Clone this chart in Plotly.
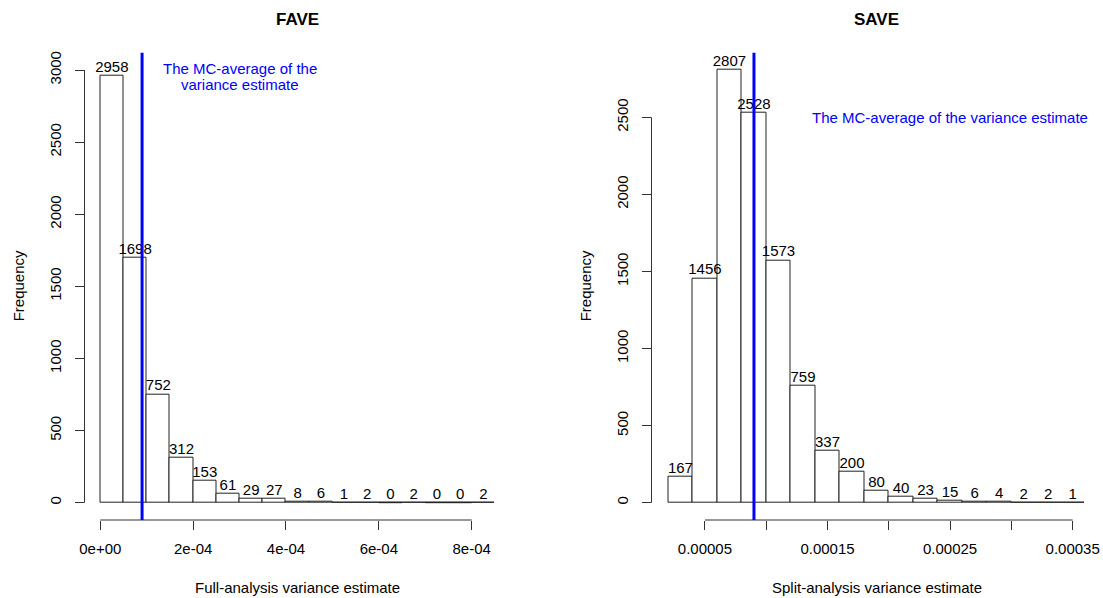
import plotly.graph_objects as go

# ---- data ----
fave_start = 0.0
fave_width = 5e-5
fave_counts = [2958, 1698, 752, 312, 153, 61, 29, 27, 8, 6, 1, 2, 0, 2, 0, 0, 2]

save_start = 2e-5
save_width = 2e-5
save_counts = [167, 1456, 2807, 2528, 1573, 759, 337, 200, 80, 40, 23, 15, 6, 4, 2, 2, 1]

fave_mc_avg = 9.0e-5
save_mc_avg = 9.0e-5

fave_ylim_top = 3000
save_ylim_top = 2807

fave_xticks = [0, 2e-4, 4e-4, 6e-4, 8e-4]
fave_xticktext = ["0e+00", "2e-04", "4e-04", "6e-04", "8e-04"]
save_xticks = [5e-5, 1e-4, 1.5e-4, 2e-4, 2.5e-4, 3e-4, 3.5e-4]
save_xticktext = ["0.00005", "", "0.00015", "", "0.00025", "", "0.00035"]
fave_yticks = [0, 500, 1000, 1500, 2000, 2500, 3000]
save_yticks = [0, 500, 1000, 1500, 2000, 2500]

fave_note = ["The MC-average of the", "variance estimate"]
save_note = ["The MC-average of the variance estimate"]

FONT = "Liberation Sans, Arial, Helvetica, sans-serif"
AX = "#333333"

W, H = 1103, 598


def edges(start, width, counts):
    return [start + i * width for i in range(len(counts) + 1)]


def rng(lo, hi):
    d = (hi - lo) * 0.04
    return [lo - d, hi + d]


fig = go.Figure()

panels = [
    dict(counts=fave_counts, start=fave_start, width=fave_width, avg=fave_mc_avg,
         ytop=fave_ylim_top,
         xticks=fave_xticks, xtext=fave_xticktext, yticks=fave_yticks,
         xa="x", ya="y", dom=[84.5 / W, 510.7 / W],
         title="FAVE", xtitle="Full-analysis variance estimate",
         note=fave_note, note_xy=(3.0e-4, 2952)),
    dict(counts=save_counts, start=save_start, width=save_width, avg=save_mc_avg,
         ytop=save_ylim_top,
         xticks=save_xticks, xtext=save_xticktext, yticks=save_yticks,
         xa="x2", ya="y2", dom=[651.5 / W, 1101.6 / W],
         title="SAVE", xtitle="Split-analysis variance estimate",
         note=save_note, note_xy=(2.5e-4, 2502)),
]

ydom = [1 - 520 / H, 1 - 52.7 / H]

for i, p in enumerate(panels):
    e = edges(p["start"], p["width"], p["counts"])
    centers = [(e[k] + e[k + 1]) / 2 for k in range(len(p["counts"]))]
    fig.add_trace(go.Bar(
        x=centers, y=p["counts"], width=[p["width"]] * len(centers),
        marker=dict(color="white", line=dict(color="#222222", width=1)),
        xaxis=p["xa"], yaxis=p["ya"], showlegend=False, hoverinfo="skip",
    ))
    # zero-count bins drawn as flat lines like R
    for k, c in enumerate(p["counts"]):
        if c == 0:
            fig.add_shape(type="line", x0=e[k], x1=e[k + 1], y0=0, y1=0,
                          xref=p["xa"], yref=p["ya"],
                          line=dict(color="#222222", width=1))
    fig.add_trace(go.Scatter(
        x=centers, y=p["counts"], mode="text", text=[str(c) for c in p["counts"]],
        textposition="top center", textfont=dict(family=FONT, size=15, color="black"),
        xaxis=p["xa"], yaxis=p["ya"], showlegend=False, hoverinfo="skip",
        cliponaxis=False,
    ))
    xr = rng(e[0], e[-1])
    yr = rng(0, p["ytop"])
    suffix = "" if i == 0 else "2"
    fig.update_layout(**{
        "xaxis" + suffix: dict(
            domain=p["dom"], range=xr, anchor=p["ya"], showgrid=False, zeroline=False,
            showline=False, tickmode="array", tickvals=p["xticks"], ticktext=p["xtext"],
            ticks="outside", ticklen=9, tickwidth=1, tickcolor=AX,
            tickfont=dict(family=FONT, size=15, color="black"),
            ticklabelstandoff=6, automargin=False,
        ),
        "yaxis" + suffix: dict(
            domain=ydom, range=yr, anchor=p["xa"], showgrid=False, zeroline=False,
            showline=False, tickmode="array", tickvals=p["yticks"],
            ticktext=[str(v) for v in p["yticks"]],
            ticks="outside", ticklen=9, tickwidth=1, tickcolor=AX, tickangle=-90,
            tickfont=dict(family=FONT, size=15, color="black"),
            ticklabelstandoff=8, automargin=False,
        ),
    })
    # axis lines spanning first to last tick (R style)
    fig.add_shape(type="line", x0=p["xticks"][0], x1=p["xticks"][-1], y0=0, y1=0,
                  xref=p["xa"], yref=p["ya"] + " domain",
                  line=dict(color=AX, width=1))
    fig.add_shape(type="line", x0=0, x1=0, y0=p["yticks"][0], y1=p["yticks"][-1],
                  xref=p["xa"] + " domain", yref=p["ya"],
                  line=dict(color=AX, width=1))
    # MC-average line
    fig.add_shape(type="line", x0=p["avg"], x1=p["avg"], y0=0, y1=1,
                  xref=p["xa"], yref=p["ya"] + " domain",
                  line=dict(color="#0000FF", width=3))
    n = len(p["note"])
    for j, line in enumerate(p["note"]):
        fig.add_annotation(x=p["note_xy"][0], y=p["note_xy"][1], xref=p["xa"], yref=p["ya"],
                           text=line, showarrow=False, xanchor="center", yanchor="middle",
                           yshift=((n - 1) / 2 - j) * 16,
                           font=dict(family=FONT, size=15, color="#0000FF"))
    # titles
    mid = (p["dom"][0] + p["dom"][1]) / 2
    fig.add_annotation(x=mid, y=1 - 20 / H, xref="paper", yref="paper",
                       text="<b>" + p["title"] + "</b>", showarrow=False,
                       xanchor="center", yanchor="middle",
                       font=dict(family=FONT, size=17, color="black"))
    fig.add_annotation(x=mid, y=1 - 587 / H, xref="paper", yref="paper",
                       text=p["xtitle"], showarrow=False,
                       xanchor="center", yanchor="middle",
                       font=dict(family=FONT, size=15, color="black"))
    fig.add_annotation(x=(p["dom"][0] - 66.5 / W), y=(ydom[0] + ydom[1]) / 2,
                       xref="paper", yref="paper", text="Frequency", textangle=-90,
                       xanchor="center", yanchor="middle",
                       showarrow=False, font=dict(family=FONT, size=15, color="black"))

fig.update_layout(
    width=W, height=H, margin=dict(l=0, r=0, t=0, b=0, autoexpand=False),
    paper_bgcolor="white", plot_bgcolor="white", bargap=0,
)

fig.write_html("out.html",
               config={"displayModeBar": False},
               post_script="document.body.style.margin='0';document.body.style.overflow='hidden';")
